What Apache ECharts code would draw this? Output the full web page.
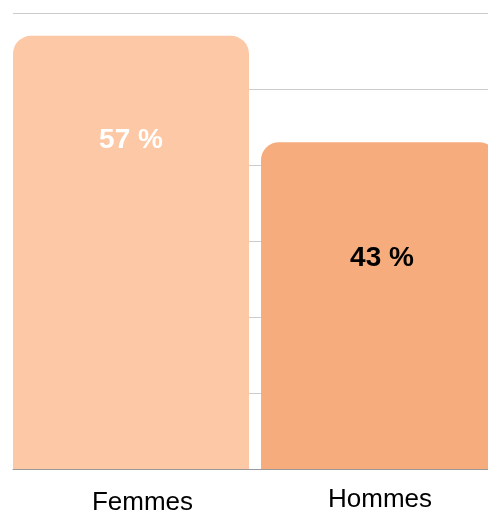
<!DOCTYPE html>
<html>
<head>
<meta charset="utf-8">
<script src="https://cdn.jsdelivr.net/npm/echarts@6/dist/echarts.min.js"></script>
<style>
  html, body { margin: 0; padding: 0; background: #fff; }
  #main { width: 488px; height: 510px; }
</style>
</head>
<body>
<div id="main"></div>
<script>
// data
var categories = ['Femmes', 'Hommes'];
var values = [57, 43];
var barColors = ['#FDC8A5', '#F7AC7D'];
var labelColors = ['#ffffff', '#000000'];

var font = 'Liberation Sans, Arial, sans-serif';
var chart = echarts.init(document.getElementById('main'));

// one series per category so each bar can sit a bit off-centre
var series = categories.map(function (name, i) {
  return {
    type: 'bar',
    name: name,
    data: values.map(function (v, j) { return j === i ? v : '-'; }),
    barWidth: 236,
    barGap: '-97.46%',
    itemStyle: { color: barColors[i], borderRadius: [18, 18, 0, 0] },
    label: {
      show: true,
      position: i === 0 ? ['50%', 104] : ['50%', 116],
      offset: i === 0 ? [0, 0] : [3, 0],
      align: 'center',
      verticalAlign: 'middle',
      formatter: '{c} %',
      color: labelColors[i],
      fontFamily: font,
      fontWeight: 'bold',
      fontSize: 28
    },
    emphasis: { disabled: true },
    silent: true
  };
});

chart.setOption({
  animation: false,
  grid: {
    left: 13, width: 484, top: 13, bottom: 41,
    containLabel: false, outerBoundsMode: 'none'
  },
  xAxis: {
    type: 'category',
    data: [
      { value: categories[0], textStyle: { padding: [3, 0, 0, 17] } },
      { value: categories[1], textStyle: { padding: [0, 0, 0, 8] } }
    ],
    axisLine: { show: true, lineStyle: { color: '#999', width: 1 } },
    axisTick: { show: false },
    axisLabel: { color: '#000', fontFamily: font, fontSize: 26, margin: 18 }
  },
  yAxis: {
    type: 'value',
    min: 0,
    max: 60,
    interval: 10,
    axisLabel: { show: false },
    axisLine: { show: false },
    axisTick: { show: false },
    splitLine: { lineStyle: { color: '#cccccc', width: 1 } }
  },
  series: series
});
</script>
</body>
</html>
